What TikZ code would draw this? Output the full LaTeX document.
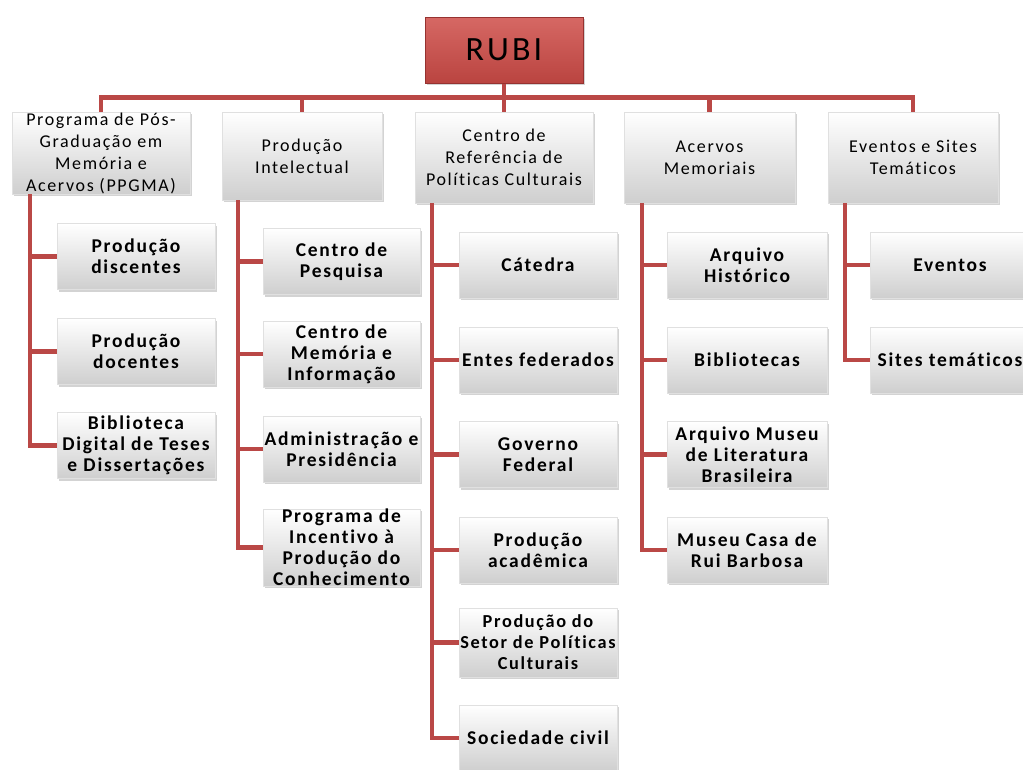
\documentclass[tikz,border=0pt]{standalone}
\usepackage{fontspec}
\setmainfont{Carlito}[LetterSpace=9,Ligatures=NoCommon]
\usetikzlibrary{shadows,calc}
\definecolor{conn}{RGB}{186,72,70}
\definecolor{rubitop}{RGB}{214,104,100}
\definecolor{rubibot}{RGB}{186,68,64}
\definecolor{rubiedge}{RGB}{150,50,48}
\begin{document}
\begin{tikzpicture}[x=1pt,y=-1pt,
  boxbase/.style={draw=black!12, top color=white, bottom color=black!19,
    drop shadow={shadow xshift=1.5pt, shadow yshift=-2pt, opacity=0.35},
    inner sep=0pt, align=center, text=black},
  lvl1/.style={boxbase, font=\fontsize{18}{22}\selectfont},
  kid/.style={boxbase, font=\fontsize{19.5}{21}\selectfont\bfseries, minimum height=66pt},
  rootbox/.style={draw=rubiedge, line width=1pt, top color=rubitop, bottom color=rubibot,
    drop shadow={shadow xshift=2pt, shadow yshift=-2pt, opacity=0.35},
    font=\fontsize{34}{40}\selectfont, inner sep=0pt},
  link/.style={draw=conn, line width=4.5pt, line join=miter}]
\useasboundingbox (0,0) rectangle (1023,769);

% root
\node[rootbox, minimum width=158pt, minimum height=66pt] (rubi) at (504,50) {RUBI};

% level 1
\node[lvl1, minimum width=178pt, minimum height=82pt] (p1) at (101,153) {Programa de Pós-\\Graduação em\\Memória e\\Acervos (PPGMA)};
\node[lvl1, minimum width=160pt, minimum height=88pt] (p2) at (302,156) {Produção\\Intelectual};
\node[lvl1, minimum width=178pt, minimum height=91pt] (p3) at (504,157.5) {Centro de\\Referência de\\Políticas Culturais};
\node[lvl1, minimum width=171pt, minimum height=91pt] (p4) at (709.5,157.5) {Acervos\\Memoriais};
\node[lvl1, minimum width=170pt, minimum height=91pt] (p5) at (913,157.5) {Eventos e Sites\\Temáticos};

% column 1
\node[kid, minimum width=158pt] (c11) at (136,256.5) {Produção\\discentes};
\node[kid, minimum width=158pt] (c12) at (136,351.5) {Produção\\docentes};
\node[kid, minimum width=158pt] (c13) at (136,445.5) {Biblioteca\\Digital de Teses\\e Dissertações};

% column 2
\node[kid, minimum width=157pt] (c21) at (341.5,261.5) {Centro de\\Pesquisa};
\node[kid, minimum width=157pt] (c22) at (341.5,354) {Centro de\\Memória e\\Informação};
\node[kid, minimum width=157pt] (c23) at (341.5,449) {Administração e\\Presidência};
\node[kid, minimum width=157pt, minimum height=75pt] (c24) at (341.5,547.5) {Programa de\\Incentivo à\\Produção do\\Conhecimento};

% column 3
\node[kid, minimum width=158pt] (c31) at (538,265) {Cátedra};
\node[kid, minimum width=158pt] (c32) at (538,360) {Entes federados};
\node[kid, minimum width=158pt] (c33) at (538,454.5) {Governo\\Federal};
\node[kid, minimum width=158pt] (c34) at (538,550) {Produção\\acadêmica};
\node[kid, minimum width=158pt, minimum height=69pt, font=\fontsize{18.3}{21}\selectfont\bfseries] (c35) at (538,642.5) {Produção do\\Setor de Políticas\\Culturais};
\node[kid, minimum width=158pt] (c36) at (538,738) {Sociedade civil};

% column 4
\node[kid, minimum width=160pt] (c41) at (747,265) {Arquivo\\Histórico};
\node[kid, minimum width=160pt] (c42) at (747,360) {Bibliotecas};
\node[kid, minimum width=160pt] (c43) at (747,454.5) {Arquivo Museu\\de Literatura\\Brasileira};
\node[kid, minimum width=160pt] (c44) at (747,550) {Museu Casa de\\Rui Barbosa};

% column 5
\node[kid, minimum width=160pt] (c51) at (950,265) {Eventos};
\node[kid, minimum width=160pt] (c52) at (950,360) {Sites temáticos};

% bus
\coordinate (bus) at ($(rubi.south)+(0,14)$);
\draw[link] (rubi.south) -- (bus);
\foreach \p in {p1,p2,p3,p4,p5} \draw[link] (\p.north) |- (bus);

% trunks
\coordinate (t1) at ($(p1.south west)+(18,0)$);
\coordinate (t2) at ($(p2.south west)+(16,0)$);
\coordinate (t3) at ($(p3.south west)+(17,0)$);
\coordinate (t4) at ($(p4.south west)+(18,0)$);
\coordinate (t5) at ($(p5.south west)+(17,0)$);
\foreach \c in {c11,c12,c13} \draw[link] (t1) |- (\c.west);
\foreach \c in {c21,c22,c23,c24} \draw[link] (t2) |- (\c.west);
\foreach \c in {c31,c32,c33,c34,c35,c36} \draw[link] (t3) |- (\c.west);
\foreach \c in {c41,c42,c43,c44} \draw[link] (t4) |- (\c.west);
\foreach \c in {c51,c52} \draw[link] (t5) |- (\c.west);
\end{tikzpicture}
\end{document}
